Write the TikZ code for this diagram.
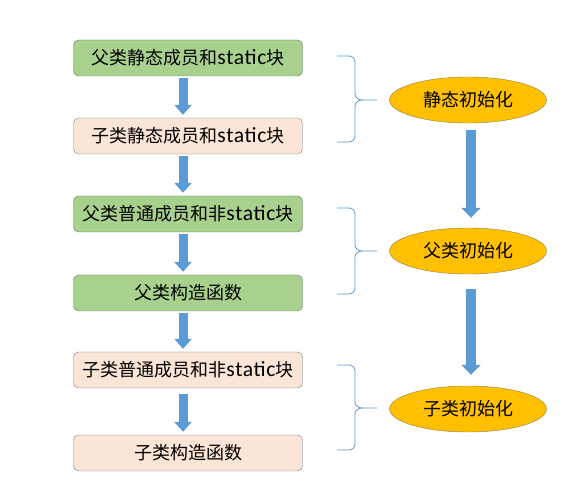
\documentclass[tikz,border=0pt]{standalone}
\usepackage{fontspec}
\setmainfont{Carlito}
\newfontfamily\cjk{Noto Sans CJK SC}
\newfontfamily\lat[Scale=1.2,LetterSpace=3]{Carlito}
\usepackage{xcolor}
\usetikzlibrary{shapes.geometric, arrows.meta, positioning}
\definecolor{parentfill}{RGB}{169, 209, 142}
\definecolor{parentedge}{RGB}{100, 120, 95}
\definecolor{childfill}{RGB}{251, 229, 214}
\definecolor{childedge}{RGB}{115, 125, 145}
\definecolor{phasefill}{RGB}{255, 192, 0}
\definecolor{phaseedge}{RGB}{140, 125, 80}
\definecolor{flowblue}{RGB}{91, 155, 213}
\tikzstyle{parent} = [rectangle, rounded corners=5pt, minimum width=229pt, minimum height=36pt, text centered, draw=parentedge, fill=parentfill, font=\fontsize{18}{20}\selectfont\cjk]
\tikzstyle{child} = [rectangle, rounded corners=5pt, minimum width=229pt, minimum height=36pt, text centered, draw=childedge, fill=childfill, font=\fontsize{18}{20}\selectfont\cjk]
\tikzstyle{phase} = [ellipse, minimum width=157pt, minimum height=46pt, text centered, draw=phaseedge, fill=phasefill, font=\fontsize{18}{20}\selectfont\cjk]
\tikzstyle{flow} = [line width=9pt, flowblue, -{Triangle[width=17pt,length=10pt]}, shorten <=2pt, shorten >=3pt]
\tikzstyle{bigflow} = [line width=10pt, flowblue, -{Triangle[width=19pt,length=10pt]}]
\tikzstyle{bracket} = [flowblue, line width=0.8pt]

\begin{document}
\begin{tikzpicture}[x=1pt, y=-1pt]
    \useasboundingbox (0,0) rectangle (576,502);

    % Steps on the left
    \node[parent] (pstatic) at (188,58) {父类静态成员和{\lat static}块};
    \node[child] (cstatic) at (188,136) {子类静态成员和{\lat static}块};
    \node[parent] (pmember) at (188,214) {父类普通成员和非{\lat static}块};
    \node[parent] (pctor) at (188,293) {父类构造函数};
    \node[child] (cmember) at (188,370) {子类普通成员和非{\lat static}块};
    \node[child] (cctor) at (188,453) {子类构造函数};

    % Phases on the right
    \node[phase] (initstatic) at (468,100) {静态初始化};
    \node[phase] (initparent) at (468,251) {父类初始化};
    \node[phase] (initchild) at (468,409) {子类初始化};

    % Braces
    \draw[bracket] (337,56) -- (349,56) to[out=0,in=90] (355,62) -- (355,94) to[out=-90,in=180] (362,100) -- (377,100);
    \draw[bracket] (362,100) to[out=180,in=90] (355,106) -- (355,136) to[out=-90,in=0] (349,142) -- (337,142);
    \draw[bracket] (337,208) -- (349,208) to[out=0,in=90] (355,214) -- (355,245) to[out=-90,in=180] (362,251) -- (377,251);
    \draw[bracket] (362,251) to[out=180,in=90] (355,257) -- (355,288) to[out=-90,in=0] (349,294) -- (337,294);
    \draw[bracket] (337,365) -- (349,365) to[out=0,in=90] (355,371) -- (355,402) to[out=-90,in=180] (362,408) -- (377,408);
    \draw[bracket] (362,408) to[out=180,in=90] (355,414) -- (355,444) to[out=-90,in=0] (349,450) -- (337,450);

    % Arrows
    \draw[flow] ([xshift=-5pt]pstatic.south) -- ([xshift=-5pt]cstatic.north);
    \draw[flow] ([xshift=-5pt]cstatic.south) -- ([xshift=-5pt]pmember.north);
    \draw[flow] ([xshift=-5pt]pmember.south) -- ([xshift=-5pt]pctor.north);
    \draw[flow] ([xshift=-5pt]pctor.south) -- ([xshift=-5pt]cmember.north);
    \draw[flow, shorten <=6pt] ([xshift=-5pt]cmember.south) -- ([xshift=-5pt]cctor.north);
    \draw[bigflow, shorten <=7pt, shorten >=10pt] ([xshift=3pt]initstatic.south) -- ([xshift=3pt]initparent.north);
    \draw[bigflow, shorten <=15pt, shorten >=11pt] ([xshift=3pt]initparent.south) -- ([xshift=3pt]initchild.north);

\end{tikzpicture}
\end{document}
